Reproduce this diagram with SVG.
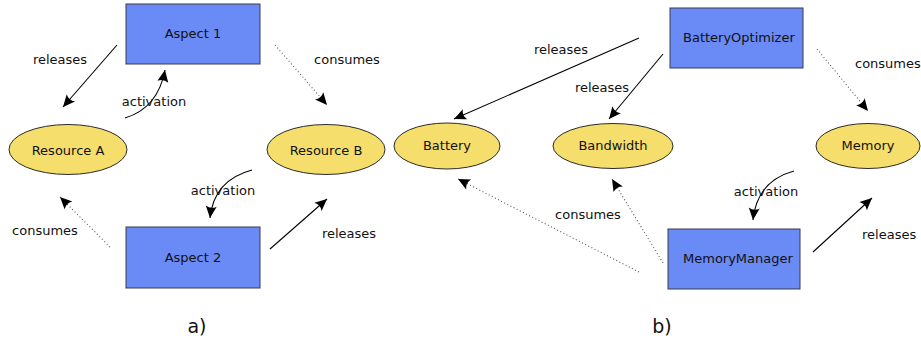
<svg xmlns="http://www.w3.org/2000/svg" width="921" height="341" viewBox="0 0 921 341">
  <style>
    .box { fill: #6a8af5; stroke: #3a3a4a; stroke-width: 1; }
    .res { fill: #f5de6c; stroke: #2a2a2a; stroke-width: 1; }
    text { font-family: "DejaVu Sans", Verdana, sans-serif; font-size: 13px; fill: #111; }
    .mid { text-anchor: middle; }
    .cap { font-size: 19px; }
    .solid { fill: none; stroke: #000; stroke-width: 1.1; marker-end: url(#arr); }
    .dot { fill: none; stroke: #555; stroke-width: 1.1; stroke-dasharray: 1 2.5; marker-end: url(#arr); }
  </style>
  <defs>
    <marker id="arr" markerUnits="userSpaceOnUse" markerWidth="16" markerHeight="14" viewBox="-13 -7 16 14" refX="0" refY="0" orient="auto" overflow="visible">
      <path d="M0,0 L-12,-5.5 Q-8.5,0 -12,5.5 Z" fill="#000"/>
    </marker>
  </defs>

  <!-- panel a -->
  <g id="aspect1"><rect class="box" x="126" y="4" width="134" height="60"/><text class="mid" x="193" y="38">Aspect 1</text></g>
  <g id="aspect2"><rect class="box" x="126" y="227" width="134" height="61"/><text class="mid" x="193" y="262">Aspect 2</text></g>
  <g id="resourceA"><ellipse class="res" cx="68" cy="149.5" rx="59" ry="25"/><text class="mid" x="68" y="155">Resource A</text></g>
  <g id="resourceB"><ellipse class="res" cx="326" cy="149.5" rx="59" ry="25"/><text class="mid" x="326" y="155">Resource B</text></g>

  <!-- panel b -->
  <g id="batteryOptimizer"><rect class="box" x="670" y="8" width="133" height="60"/><text x="683" y="42">BatteryOptimizer</text></g>
  <g id="memoryManager"><rect class="box" x="668" y="229" width="132" height="60"/><text x="683" y="263">MemoryManager</text></g>
  <g id="battery"><ellipse class="res" cx="447" cy="146" rx="53" ry="23"/><text class="mid" x="447" y="150">Battery</text></g>
  <g id="bandwidth"><ellipse class="res" cx="613" cy="146" rx="60" ry="22.5"/><text class="mid" x="613" y="150">Bandwidth</text></g>
  <g id="memory"><ellipse class="res" cx="868" cy="146" rx="52" ry="22.5"/><text class="mid" x="868" y="150">Memory</text></g>

  <g id="connectors">
    <!-- panel a -->
    <path class="solid" d="M117,45 L63,107"/>
    <path class="solid" d="M125,118 Q158,108 165,70"/>
    <path class="dot" d="M275,45 L327,105"/>
    <path class="solid" d="M252,170 Q214,180 210,218"/>
    <path class="dot" d="M110,247 L60,197"/>
    <path class="solid" d="M270,249 L327,199"/>
    <!-- panel b -->
    <path class="solid" d="M639,38 L454,119"/>
    <path class="solid" d="M663,54 L609,119"/>
    <path class="dot" d="M817,49 L868,111"/>
    <path class="dot" d="M639,272 L458,179"/>
    <path class="dot" d="M663,263 L612,179"/>
    <path class="solid" d="M794,171 Q757,181 753,220"/>
    <path class="solid" d="M813,252 L872,198"/>
  </g>

  <g id="labels">
    <text class="mid" x="60" y="64">releases</text>
    <text class="mid" x="154" y="106">activation</text>
    <text class="mid" x="347" y="64">consumes</text>
    <text class="mid" x="223" y="195">activation</text>
    <text class="mid" x="45" y="235">consumes</text>
    <text class="mid" x="349" y="238">releases</text>
    <text class="mid" x="561" y="54">releases</text>
    <text class="mid" x="602" y="92">releases</text>
    <text x="855" y="68">consumes</text>
    <text class="mid" x="588" y="219">consumes</text>
    <text class="mid" x="766" y="196">activation</text>
    <text x="862" y="239">releases</text>
    <text class="mid cap" x="197" y="333">a)</text>
    <text class="mid cap" x="662" y="333">b)</text>
  </g>
</svg>
